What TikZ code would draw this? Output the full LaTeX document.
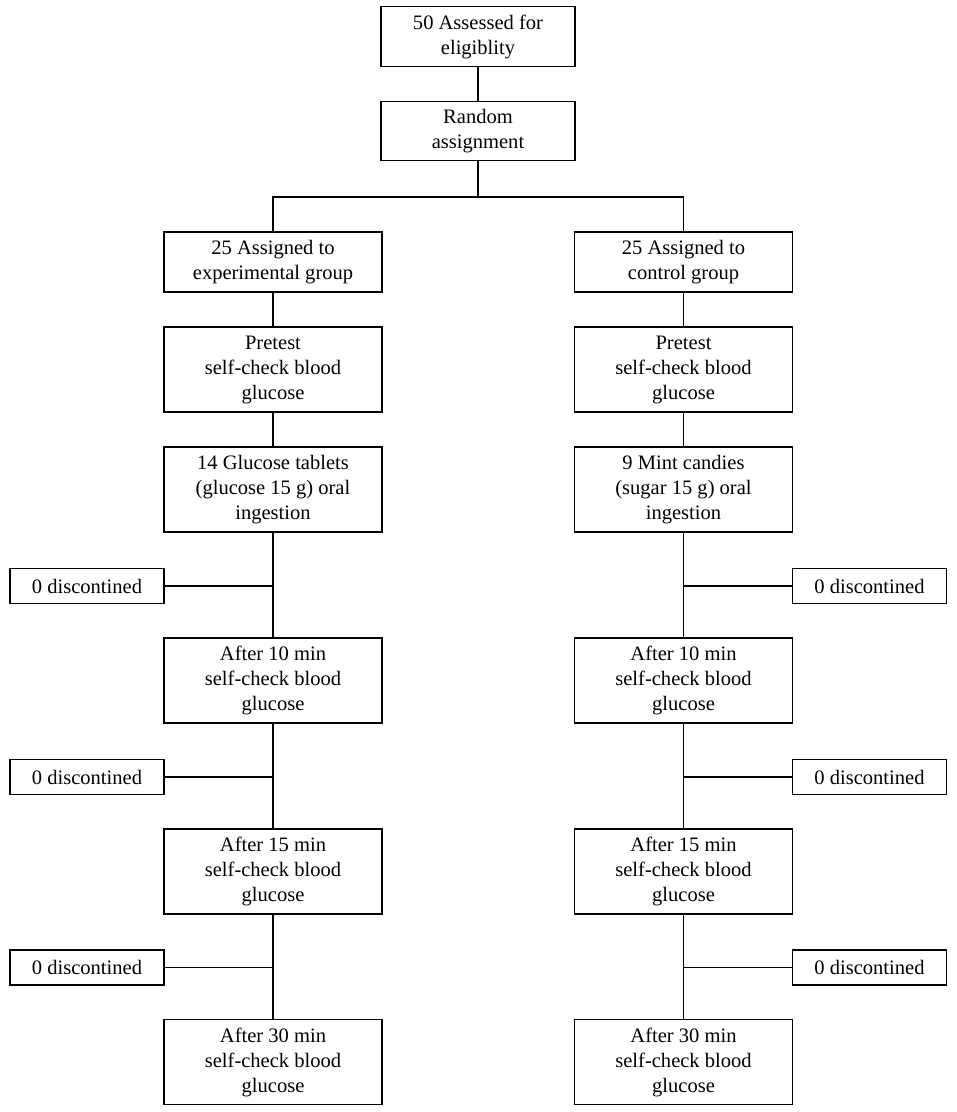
\documentclass[tikz,border=0pt]{standalone}
\usepackage{fontspec}
\setmainfont{Liberation Serif}
\begin{document}
\begin{tikzpicture}[x=0.75pt,y=-0.75pt,
  every node/.style={font=\fontsize{15.4}{18.75}\selectfont},
  box/.style={draw,line width=0.9pt,align=center,inner sep=0pt,minimum width=163.5pt,minimum height=63.75pt},
  sbox/.style={box,minimum height=45pt},
  tbox/.style={box,minimum width=145.5pt,minimum height=44.5pt},
  dbox/.style={draw,line width=0.9pt,inner sep=0pt,minimum width=115.5pt,minimum height=26.25pt},
  conn/.style={line width=0.9pt}]
\useasboundingbox (0,0) rectangle (956,1112);
\node[tbox] (top) at (478,36.5) {50 Assessed for\\eligiblity};
\node[tbox] (rand) at (478,131) {Random\\assignment};
\node[sbox] (L1) at (273,262) {25 Assigned to\\experimental group};
\node[sbox] (R1) at (683.5,262) {25 Assigned to\\control group};
\node[box] (L2) at (273,369.5) {Pretest\\self-check blood\\glucose};
\node[box] (R2) at (683.5,369.5) {Pretest\\self-check blood\\glucose};
\node[box] (L3) at (273,489.5) {14 Glucose tablets\\(glucose 15 g) oral\\ingestion};
\node[box] (R3) at (683.5,489.5) {9 Mint candies\\(sugar 15 g) oral\\ingestion};
\node[box] (L4) at (273,680.5) {After 10 min\\self-check blood\\glucose};
\node[box] (R4) at (683.5,680.5) {After 10 min\\self-check blood\\glucose};
\node[box] (L5) at (273,871.5) {After 15 min\\self-check blood\\glucose};
\node[box] (R5) at (683.5,871.5) {After 15 min\\self-check blood\\glucose};
\node[box] (L6) at (273,1062) {After 30 min\\self-check blood\\glucose};
\node[box] (R6) at (683.5,1062) {After 30 min\\self-check blood\\glucose};
\node[dbox] (dL1) at (87,586) {0 discontined};
\node[dbox] (dR1) at (869.5,586) {0 discontined};
\node[dbox] (dL2) at (87,777) {0 discontined};
\node[dbox] (dR2) at (869.5,777) {0 discontined};
\node[dbox] (dL3) at (87,967.5) {0 discontined};
\node[dbox] (dR3) at (869.5,967.5) {0 discontined};
\coordinate (sp) at (478,197);
\draw[conn] (top) -- (rand);
\draw[conn] (rand) -- (sp);
\draw[conn] (L1.north) |- (sp) -| (R1.north);
\foreach \s in {L,R}{
  \draw[conn] (\s1) -- (\s2);
  \draw[conn] (\s2) -- (\s3);
  \draw[conn] (\s3) -- (\s4);
  \draw[conn] (\s4) -- (\s5);
  \draw[conn] (\s5) -- (\s6);
}
\draw[conn] (dL1) -- (dL1 -| L3);
\draw[conn] (dL2) -- (dL2 -| L4);
\draw[conn] (dL3) -- (dL3 -| L5);
\draw[conn] (dR1) -- (dR1 -| R3);
\draw[conn] (dR2) -- (dR2 -| R4);
\draw[conn] (dR3) -- (dR3 -| R5);
\end{tikzpicture}
\end{document}
